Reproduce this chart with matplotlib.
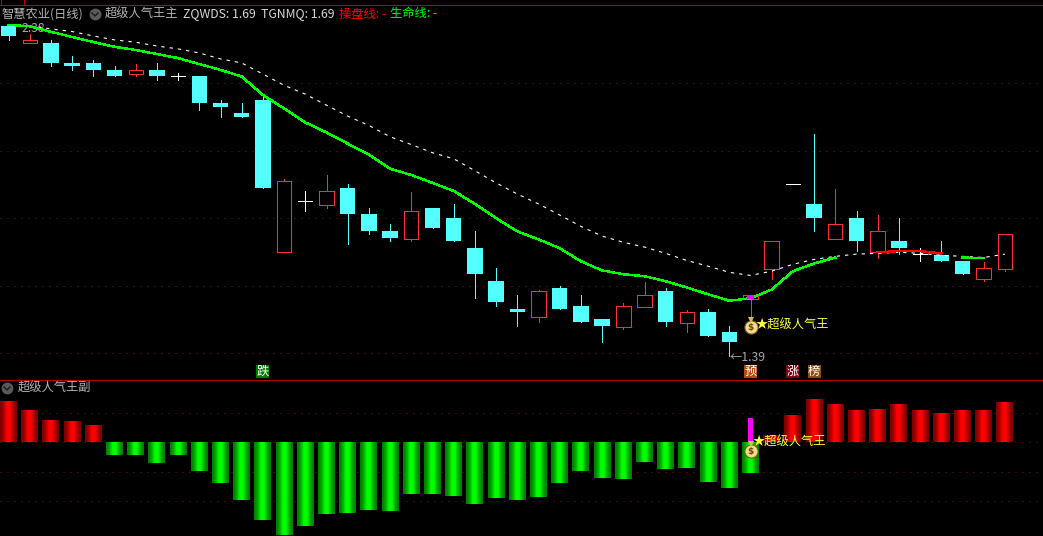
import matplotlib
matplotlib.use('Agg')
import matplotlib.pyplot as plt
from matplotlib.lines import Line2D
from matplotlib.patches import Rectangle
from matplotlib.transforms import Affine2D
import numpy as np

plt.rcParams['font.family'] = ['Noto Sans CJK SC', 'DejaVu Sans']

W, H = 1043, 536

# daily candles, prices
opens = [2.381, 2.314, 2.316, 2.241, 2.241, 2.216, 2.201, 2.216, 2.194, 2.194, 2.099, 2.065,
         2.109, 1.646, 1.790, 1.778, 1.828, 1.752, 1.703, 1.681, 1.769, 1.740, 1.657, 1.570,
         1.501, 1.482, 1.552, 1.509, 1.477, 1.458, 1.506, 1.544, 1.467, 1.494, 1.446, 1.524,
         1.601, 1.840, 1.781, 1.681, 1.740, 1.646, 1.676, 1.641, 1.638, 1.622, 1.575, 1.601]
closes = [2.342, 2.327, 2.241, 2.230, 2.216, 2.194, 2.216, 2.194, 2.194, 2.099, 2.085, 2.051,
          1.828, 1.849, 1.790, 1.819, 1.752, 1.703, 1.684, 1.761, 1.712, 1.676, 1.588, 1.519,
          1.494, 1.544, 1.501, 1.469, 1.460, 1.509, 1.534, 1.469, 1.494, 1.436, 1.422, 1.534,
          1.676, 1.840, 1.740, 1.723, 1.676, 1.703, 1.657, 1.641, 1.622, 1.588, 1.603, 1.695]
highs = [2.385, 2.350, 2.327, 2.267, 2.252, 2.230, 2.237, 2.241, 2.205, 2.194, 2.109, 2.099,
         2.127, 1.855, 1.819, 1.867, 1.840, 1.769, 1.723, 1.816, 1.769, 1.781, 1.703, 1.603,
         1.534, 1.549, 1.559, 1.534, 1.477, 1.516, 1.567, 1.552, 1.499, 1.501, 1.460, 1.534,
         1.676, 1.840, 1.997, 1.825, 1.761, 1.749, 1.740, 1.657, 1.676, 1.622, 1.619, 1.695]
lows = [2.327, 2.314, 2.230, 2.216, 2.194, 2.194, 2.194, 2.180, 2.180, 2.075, 2.051, 2.051,
        1.828, 1.646, 1.761, 1.769, 1.668, 1.695, 1.676, 1.676, 1.712, 1.676, 1.527, 1.509,
        1.460, 1.469, 1.501, 1.469, 1.422, 1.453, 1.506, 1.460, 1.446, 1.436, 1.390, 1.469,
        1.577, 1.840, 1.703, 1.681, 1.649, 1.630, 1.641, 1.622, 1.622, 1.588, 1.570, 1.596]

white_line = [np.nan, 2.381, 2.369, 2.359, 2.342, 2.327, 2.318, 2.304, 2.293, 2.278, 2.256, 2.241,
              2.201, 2.161, 2.130, 2.092, 2.055, 2.024, 1.987, 1.962, 1.936, 1.917, 1.880, 1.843,
              1.810, 1.781, 1.749, 1.717, 1.690, 1.673, 1.660, 1.643, 1.624, 1.609, 1.593, 1.585,
              1.596, 1.614, 1.627, 1.635, 1.641, 1.643, 1.646, 1.643, 1.638, 1.635, 1.632, 1.641]
life_line = [2.385, 2.379, 2.358, 2.338, 2.319, 2.301, 2.289, 2.274, 2.259, 2.237, 2.216, 2.192,
             2.127, 2.081, 2.034, 2.001, 1.965, 1.930, 1.886, 1.867, 1.843, 1.819, 1.781, 1.740,
             1.703, 1.681, 1.657, 1.622, 1.598, 1.588, 1.583, 1.570, 1.554, 1.537, 1.521, 1.527,
             1.549, 1.596, 1.616, 1.632, 1.641, 1.646, 1.649, 1.649, 1.643, 1.632, 1.630, np.nan]
green_runs = [(0, 39), (45, 46)]
red_runs = [(41, 44)]

price_grid = [2.168, 1.9425, 1.740, 1.559, 1.397]

# lower panel
hist = [14.0, 11.0, 7.6, 7.2, 5.9, -4.3, -4.3, -7.0, -4.3, -9.7, -13.8, -19.6,
        -26.3, -31.4, -28.4, -24.3, -24.0, -23.0, -23.3, -17.5, -17.5, -18.2, -20.9, -18.9,
        -19.6, -18.5, -13.8, -9.7, -12.1, -12.4, -6.7, -9.0, -8.7, -13.5, -15.5, -10.4,
        2.5, 9.3, 14.7, 13.0, 11.0, 11.3, 13.0, 11.0, 9.9, 11.0, 11.0, 13.7]
hist_grid = [10, 0, -10, -20]
signal_day = 35
signal_height = 8.2

badges = [(12, '跌', '#007a00'), (35, '预', '#b34a10'), (37, '涨', '#800014'), (38, '榜', '#8a4a12')]

CYAN = '#54ffff'
RED = '#ff3232'
GRID = '#8c1010'
PX = 0.72  # one pixel in points at dpi 100
THIN = 0.6  # stays one pixel wide without antialiasing
PER = 21.2  # pixels per candle

x = np.arange(48)
xlim = (-8.5 / PER, (W - 8.5) / PER)

fig = plt.figure(figsize=(W / 100, H / 100), dpi=100, facecolor='black')
ax1 = fig.add_axes([0, 1 - 379 / H, 1, 379 / H], facecolor='black')
ax2 = fig.add_axes([0, 0, 1, (H - 379) / H], facecolor='black')

ax1.set_yscale('log')
ax1.set_xlim(xlim)
ax1.set_ylim(1.3387, 2.4834)
ax2.set_xlim(xlim)
ax2.set_ylim(-31.8, 21.5)
ax1.set_axis_off()
ax2.set_axis_off()

for p in price_grid:
    ax1.axhline(p, color=GRID, lw=PX, ls=(0, (1, 6)), zorder=1)
for v in hist_grid:
    ax2.axhline(v, color=GRID, lw=PX, ls=(0, (1, 6)), zorder=1)

# candles
w = 14.4 / PER
for i in x:
    o, c, h, l = opens[i], closes[i], highs[i], lows[i]
    if o == c:
        ax1.hlines(o, i - 0.33, i + 0.33, color='white', lw=THIN, antialiased=False, zorder=3)
        ax1.vlines(i, l, h, color='white', lw=THIN, antialiased=False, zorder=3)
    elif c > o:
        ax1.vlines(i, c, h, color=RED, lw=THIN, antialiased=False, zorder=3)
        ax1.vlines(i, l, o, color=RED, lw=THIN, antialiased=False, zorder=3)
        ax1.bar(i, c - o, bottom=o, width=w, facecolor='none', edgecolor=RED, lw=THIN,
                antialiased=False, zorder=3)
    else:
        ax1.vlines(i, l, h, color=CYAN, lw=THIN, antialiased=False, zorder=3)
        ax1.bar(i, o - c, bottom=c, width=w + 1 / PER, color=CYAN, lw=0, zorder=3)

ax1.bar(signal_day, closes[signal_day] - opens[signal_day], bottom=opens[signal_day],
        width=7 / PER, color='#ff00ff', lw=0, zorder=7)

ax1.plot(x, white_line, color='white', lw=0.8, ls=(0, (3, 4.5)), antialiased=True, zorder=5)
life = np.array(life_line)
for a, b in green_runs:
    ax1.plot(x[a:b + 1], life[a:b + 1], color='#00ff00', lw=1.0, antialiased=False, zorder=6)
for a, b in red_runs:
    ax1.plot(x[a:b + 1], life[a:b + 1], color='#ff0000', lw=1.0, antialiased=False, zorder=6)

# high / low labels
ax1.annotate('2.38', (0, 2.385), xytext=(13, -4), textcoords='offset pixels', color='#a8a8a8',
             fontsize=8.8, va='center', ha='left', zorder=2)
ax1.annotate('←1.39', (34, 1.39), xytext=(0, -2), textcoords='offset pixels', color='#a8a8a8',
             fontsize=8.8, va='center', ha='left', zorder=2)

# hist bars with the horizontal shading
strips = 17
for k in range(strips):
    t = 1 - abs(k - (strips - 1) / 2) / ((strips - 1) / 2)
    level = 0.5 + 0.5 * min(1, t * 1.25) ** 1.5
    off = (k - (strips - 1) / 2) / PER
    for i in x:
        col = (level, 0, 0) if hist[i] > 0 else (0, level, 0)
        ax2.bar(i + off, hist[i], width=1.02 / PER, color=col, lw=0, zorder=3)

ax2.bar(signal_day, signal_height, width=6 / PER, color='#ff00ff', lw=0, zorder=4)


def money_bag(ax, xv, yv):
    ax.plot([xv], [yv], marker='o', ms=9.5, mfc='#f6dc86', mec='#7a5a20', mew=0.8, zorder=8)
    ax.plot([xv], [yv], marker='v', ms=5, mfc='#e0b850', mew=0, zorder=8,
            transform=ax.transData + Affine2D().translate(0, 7))
    ax.annotate('$', (xv, yv), color='#6b4510', fontsize=6.5, fontweight='bold',
                ha='center', va='center', zorder=9, family='DejaVu Sans')


money_bag(ax1, signal_day, 1.456)
money_bag(ax2, signal_day, -3.0)
ax1.annotate('★超级人气王', (signal_day, 1.465), xytext=(5, -1), textcoords='offset pixels',
             color='#ffff3c', fontsize=8.8, va='center', ha='left', zorder=9)
ax2.annotate('★超级人气王', (signal_day, 0.1), xytext=(2, 0), textcoords='offset pixels',
             color='#ffff3c', fontsize=8.8, va='center', ha='left', zorder=9)


def fx(px):
    return px / W


def fy(py):
    return 1 - py / H


# signal badges under the candles
for i, s, col in badges:
    px = 8.5 + PER * i
    fig.add_artist(Rectangle((fx(px - 6.5), fy(378)), 13 / W, 13 / H, transform=fig.transFigure,
                             facecolor=col, lw=0))
    fig.text(fx(px), fy(371.5), s, color='white', fontsize=8.8, ha='center', va='center')

# panel separators
for xs, ys in [([0, 1], [fy(379.5)] * 2), ([0, 1], [fy(4.5)] * 2),
               ([fx(23.5)] * 2, [fy(4.5), 1]), ([fx(0.5)] * 2, [fy(4.5), 1])]:
    fig.add_artist(Line2D(xs, ys, color='#c00000', lw=THIN, antialiased=False))

# header text
header = [(2, '智慧农业(日线)', '#b4b4b4'), (105, '超级人气王主', '#b4b4b4'),
          (183, 'ZQWDS: 1.69', '#d8d8d8'), (261, 'TGNMQ: 1.69', '#d8d8d8'),
          (339, '操盘线: -', '#ff0000'), (390, '生命线: -', '#00ff00')]
for px, s, col in header:
    fig.text(fx(px), fy(14), s, color=col, fontsize=8.8, ha='left', va='center')
fig.text(fx(18), fy(388), '超级人气王副', color='#b4b4b4', fontsize=8.8, ha='left', va='center')

# collapse buttons
for px, py in [(95, 14), (7, 388)]:
    fig.add_artist(Line2D([fx(px)], [fy(py)], marker='o', ms=8.5, color='#5a5a5a', mew=0))
    fig.add_artist(Line2D([fx(px - 3), fx(px), fx(px + 3)], [fy(py - 1), fy(py + 2), fy(py - 1)],
                          color='#1a1a1a', lw=1))

fig.savefig('out.png', dpi=100, facecolor='black')
